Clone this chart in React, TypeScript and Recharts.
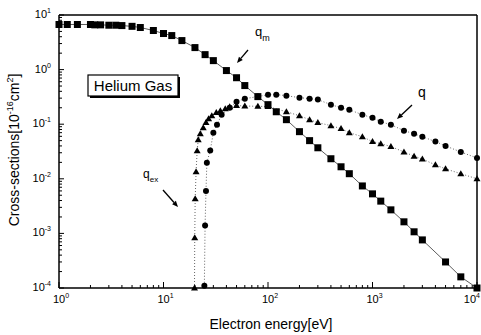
import { LineChart, Line, XAxis, YAxis } from "recharts";

// momentum transfer cross-section q_m (squares)
const mEnergy = [1, 1.2, 1.5, 2, 2.2, 2.5, 3, 3.5, 4, 5, 6, 8, 10, 12, 15, 20, 25, 30, 40, 50, 60, 80, 100, 120, 150, 200, 250, 300, 400, 500, 600, 800, 1000, 1200, 1500, 2000, 2500, 3000, 5000, 7000, 10000];
const qmValues = [6.7, 6.7, 6.7, 6.7, 6.6, 6.6, 6.5, 6.5, 6.4, 6.2, 5.9, 5.2, 4.58, 4.2, 3.4, 2.53, 1.88, 1.46, 0.96, 0.71, 0.51, 0.32, 0.228, 0.169, 0.121, 0.073, 0.05, 0.037, 0.0233, 0.0166, 0.0124, 0.0074, 0.0053, 0.0039, 0.0027, 0.00163, 0.00107, 0.00076, 0.0003, 0.00016, 0.0001];

// q (circles)
const qEnergy = [24.6, 25, 25.5, 26, 28, 30, 32.5, 36, 43, 50, 60, 80, 100, 120, 150, 200, 250, 300, 400, 500, 600, 800, 1000, 1200, 1500, 2000, 2500, 3000, 4000, 5000, 7000, 10000];
const qValues = [0.00011, 0.0014, 0.006, 0.0197, 0.033, 0.07, 0.098, 0.149, 0.2, 0.259, 0.294, 0.32, 0.348, 0.348, 0.333, 0.306, 0.294, 0.282, 0.228, 0.2, 0.184, 0.149, 0.131, 0.111, 0.098, 0.076, 0.067, 0.059, 0.048, 0.04, 0.031, 0.024];

// q_ex (triangles)
const exEnergy = [19.8, 19.9, 20.1, 20.5, 21, 21.5, 22.5, 24, 25.5, 27, 29, 32, 35, 39, 43, 50, 60, 80, 100, 150, 200, 250, 300, 400, 500, 600, 800, 1000, 1200, 1500, 2000, 2500, 3000, 4000, 5000, 7000, 10000];
const qexValues = [0.0001, 0.00083, 0.0043, 0.0134, 0.0327, 0.052, 0.067, 0.086, 0.107, 0.126, 0.143, 0.163, 0.177, 0.192, 0.209, 0.22, 0.215, 0.213, 0.21, 0.169, 0.143, 0.121, 0.107, 0.094, 0.083, 0.07, 0.059, 0.048, 0.044, 0.039, 0.031, 0.026, 0.023, 0.018, 0.0152, 0.0124, 0.01];

const xDecades = [1, 10, 100, 1000, 10000];
const yDecades = [0.0001, 0.001, 0.01, 0.1, 1, 10];

const FONT = "'Liberation Sans', Arial, sans-serif";

const toPoints = (xs: number[], ys: number[]) => xs.map((x, i) => ({ x, y: ys[i] }));
const mData = toPoints(mEnergy, qmValues);
const qData = toPoints(qEnergy, qValues);
const exData = toPoints(exEnergy, qexValues);

// decades plus 2..9 minor ticks in between
const withMinor = (decades: number[]) => {
  const out: number[] = [];
  decades.forEach((d, i) => {
    out.push(d);
    if (i < decades.length - 1) for (let k = 2; k <= 9; k++) out.push(+(d * k).toPrecision(3));
  });
  return out;
};
const xTicks = withMinor(xDecades);
const yTicks = withMinor(yDecades);

const isMajor = (v: number) => Math.abs(Math.log10(v) - Math.round(Math.log10(v))) < 1e-6;
const expOf = (v: number) => String(Math.round(Math.log10(v)));

const BottomTick = ({ x, y, payload }: any) => {
  const major = isMajor(payload.value);
  const last = payload.value === xDecades[xDecades.length - 1];
  return (
    <g>
      <line x1={x} x2={x} y1={y} y2={y - (major ? 6 : 3)} stroke="#000" />
      {major && (
        <text
          x={last ? 480 : x + 2}
          y={y + 15}
          textAnchor={last ? "end" : "middle"}
          fontSize={11}
          fontFamily={FONT}
          fill="#000"
        >
          10<tspan dy={-5} fontSize={7}>{expOf(payload.value)}</tspan>
        </text>
      )}
    </g>
  );
};

const TopTick = ({ x, y, payload }: any) => (
  <line x1={x} x2={x} y1={y} y2={y + (isMajor(payload.value) ? 6 : 3)} stroke="#000" />
);

const LeftTick = ({ x, y, payload }: any) => {
  const major = isMajor(payload.value);
  return (
    <g>
      <line x1={x} x2={x + (major ? 5 : 3)} y1={y} y2={y} stroke="#000" />
      {major && (
        <text x={x - 8} y={y + 3} textAnchor="end" fontSize={11} fontFamily={FONT} fill="#000">
          10<tspan dy={-5} fontSize={7}>{expOf(payload.value)}</tspan>
        </text>
      )}
    </g>
  );
};

const RightTick = ({ x, y, payload }: any) => (
  <line x1={x} x2={x - (isMajor(payload.value) ? 5 : 3)} y1={y} y2={y} stroke="#000" />
);

const SquareDot = (p: any) => (
  <rect key={`s${p.index}`} x={p.cx - 3.5} y={p.cy - 3.5} width={7} height={7} fill="#000" />
);
const CircleDot = (p: any) => (
  <circle key={`c${p.index}`} cx={p.cx} cy={p.cy} r={3} fill="#000" />
);
const TriangleDot = (p: any) => (
  <path
    key={`t${p.index}`}
    d={`M${p.cx},${p.cy - 3.5}L${p.cx + 3.5},${p.cy + 2.5}L${p.cx - 3.5},${p.cy + 2.5}Z`}
    fill="#000"
  />
);

const Arrow = ({ x1, y1, x2, y2 }: { x1: number; y1: number; x2: number; y2: number }) => {
  const a = Math.atan2(y2 - y1, x2 - x1);
  const L = 6;
  const W = 2.5;
  const bx = x2 - L * Math.cos(a);
  const by = y2 - L * Math.sin(a);
  const px = -Math.sin(a) * W;
  const py = Math.cos(a) * W;
  return (
    <g>
      <line x1={x1} y1={y1} x2={bx} y2={by} stroke="#000" strokeWidth={1.3} />
      <path d={`M${x2},${y2}L${bx + px},${by + py}L${bx - px},${by - py}Z`} fill="#000" />
    </g>
  );
};

export default function App() {
  const axisLine = { stroke: "#000", strokeWidth: 1.5 };
  return (
    <div style={{ position: "absolute", left: 0, top: 0, width: 481, height: 335, background: "#fff" }}>
      <LineChart width={481} height={335} margin={{ top: 0, right: 0, bottom: 0, left: 0 }}>
        <XAxis
          xAxisId="b"
          dataKey="x"
          type="number"
          scale="log"
          domain={[1, 10000]}
          ticks={xTicks}
          interval={0}
          tickSize={0}
          tickMargin={0}
          tickLine={false}
          axisLine={axisLine}
          tick={BottomTick}
          height={47}
        />
        <XAxis
          xAxisId="t"
          orientation="top"
          type="number"
          scale="log"
          domain={[1, 10000]}
          ticks={xTicks}
          interval={0}
          tickSize={0}
          tickMargin={0}
          tickLine={false}
          axisLine={axisLine}
          tick={TopTick}
          height={15}
        />
        <YAxis
          yAxisId="l"
          type="number"
          scale="log"
          domain={[0.0001, 10]}
          ticks={yTicks}
          interval={0}
          tickSize={0}
          tickMargin={0}
          tickLine={false}
          axisLine={axisLine}
          tick={LeftTick}
          width={59}
        />
        <YAxis
          yAxisId="r"
          orientation="right"
          type="number"
          scale="log"
          domain={[0.0001, 10]}
          ticks={yTicks}
          interval={0}
          tickSize={0}
          tickMargin={0}
          tickLine={false}
          axisLine={axisLine}
          tick={RightTick}
          width={4}
        />
        <Line
          xAxisId="b"
          yAxisId="l"
          data={mData}
          dataKey="y"
          type="linear"
          stroke="#333"
          strokeWidth={0.8}
          dot={SquareDot}
          isAnimationActive={false}
        />
        <Line
          xAxisId="b"
          yAxisId="l"
          data={exData}
          dataKey="y"
          type="linear"
          stroke="#555"
          strokeWidth={0.9}
          strokeDasharray="1 2"
          dot={TriangleDot}
          isAnimationActive={false}
        />
        <Line
          xAxisId="b"
          yAxisId="l"
          data={qData}
          dataKey="y"
          type="linear"
          stroke="#555"
          strokeWidth={0.9}
          strokeDasharray="1 2"
          dot={CircleDot}
          isAnimationActive={false}
        />
      </LineChart>
      <svg
        width={481}
        height={335}
        style={{ position: "absolute", left: 0, top: 0, pointerEvents: "none" }}
        fontFamily={FONT}
      >
        <text x={271} y={329} textAnchor="middle" fontSize={14} fill="#000">
          Electron energy[eV]
        </text>
        <text x={19} y={150} textAnchor="middle" fontSize={14} fill="#000" transform="rotate(-90 19 150)">
          Cross-sections[10<tspan dy={-6} fontSize={9}>-16</tspan>
          <tspan dy={6}>cm</tspan>
          <tspan dy={-6} fontSize={9}>2</tspan>
          <tspan dy={6}>]</tspan>
        </text>
        <rect x={90} y={77} width={90} height={21} fill="#000" />
        <rect x={88} y={75} width={90} height={21} fill="#fff" stroke="#000" strokeWidth={1.2} />
        <text x={133} y={91} textAnchor="middle" fontSize={15} fill="#000">
          Helium Gas
        </text>
        <text x={255} y={36} fontSize={13} fill="#000">
          q<tspan dy={5} fontSize={9}>m</tspan>
        </text>
        <Arrow x1={248} y1={50} x2={237} y2={63} />
        <text x={418} y={97} fontSize={14} fill="#000">
          q
        </text>
        <Arrow x1={412} y1={105} x2={397} y2={119} />
        <text x={143} y={178} fontSize={12} fill="#000">
          q<tspan dy={4} fontSize={8}>ex</tspan>
        </text>
        <Arrow x1={163} y1={190} x2={178} y2={207} />
      </svg>
    </div>
  );
}
